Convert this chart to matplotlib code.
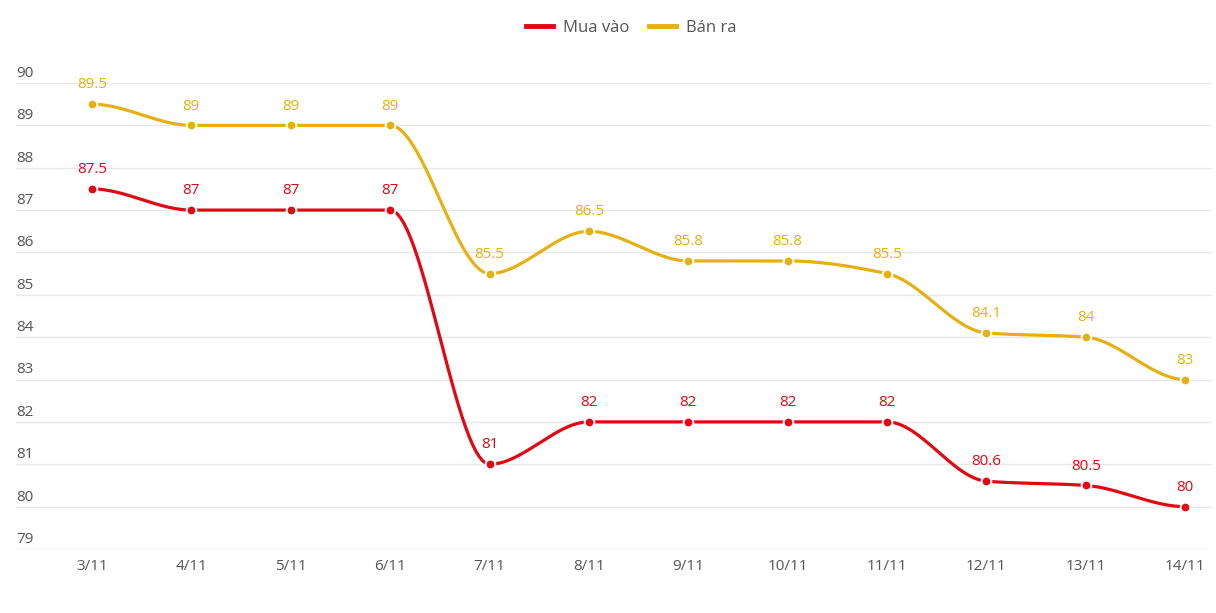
"""
Giá mua vào / bán ra, 3/11 -> 14/11 (đường làm mượt kiểu monotone).
"""
import numpy as np
import matplotlib
matplotlib.use("Agg")
import matplotlib.pyplot as plt
from matplotlib.lines import Line2D
import matplotlib.transforms as mtransforms

days = ["3/11", "4/11", "5/11", "6/11", "7/11", "8/11",
        "9/11", "10/11", "11/11", "12/11", "13/11", "14/11"]
mua_vao = [87.5, 87, 87, 87, 81, 82, 82, 82, 82, 80.6, 80.5, 80]
ban_ra = [89.5, 89, 89, 89, 85.5, 86.5, 85.8, 85.8, 85.5, 84.1, 84, 83]
y_ticks = [79, 80, 81, 82, 83, 84, 85, 86, 87, 88, 89, 90]

RED = "#e30613"
GOLD = "#e6b012"
GREY = "#555555"

plt.rcParams["font.family"] = ["Open Sans", "DejaVu Sans"]


def pchip(x, y, n=30):
    # cubic hermite monotone (Fritsch-Carlson), pas de scipy
    x = np.asarray(x, float)
    y = np.asarray(y, float)
    h = np.diff(x)
    d = np.diff(y) / h
    m = np.zeros_like(y)
    for i in range(1, len(y) - 1):
        if d[i - 1] * d[i] > 0:
            w1 = 2 * h[i] + h[i - 1]
            w2 = h[i] + 2 * h[i - 1]
            m[i] = (w1 + w2) / (w1 / d[i - 1] + w2 / d[i])
    xs, ys = [], []
    for i in range(len(h)):
        t = np.linspace(0, 1, n)
        h00 = 2 * t**3 - 3 * t**2 + 1
        h10 = t**3 - 2 * t**2 + t
        h01 = -2 * t**3 + 3 * t**2
        h11 = t**3 - t**2
        xs.append(x[i] + t * h[i])
        ys.append(h00 * y[i] + h10 * h[i] * m[i] + h01 * y[i + 1] + h11 * h[i] * m[i + 1])
    return np.concatenate(xs), np.concatenate(ys)


fig = plt.figure(figsize=(12.16, 6.13), dpi=100)
ax = fig.add_axes([16 / 1216, 1 - 549 / 613, 1196 / 1216, 466 / 613])

x = np.arange(len(days))
for vals, color in [(ban_ra, GOLD), (mua_vao, RED)]:
    sx, sy = pchip(x, vals)
    ax.plot(sx, sy, color=color, linewidth=2.3, solid_capstyle="round", zorder=3)
    ax.plot(x, vals, "o", color=color, markersize=7, markeredgecolor="white",
            markeredgewidth=1.4, zorder=4)
    for xi, v in zip(x, vals):
        ax.annotate(f"{v:g}", (xi, v), xytext=(0, 8.5), textcoords="offset points",
                    ha="center", va="bottom", color=color, fontsize=11, zorder=5)

ax.set_xlim(-0.765, 11.27)
ax.set_ylim(79, 90)
ax.set_yticks(y_ticks)
ax.set_yticklabels([])
ax.tick_params(axis="y", length=0)
ax.grid(axis="y", color="#e8e8e8", linewidth=1)
ax.set_xticks(x)
ax.set_xticklabels(days, color=GREY, fontsize=11)
ax.tick_params(axis="x", length=0, pad=7)
for s in ax.spines.values():
    s.set_visible(False)

# étiquettes y au-dessus des lignes, alignées à gauche
trans = mtransforms.blended_transform_factory(ax.transAxes, ax.transData)
for t in y_ticks:
    ax.annotate(str(t), (0, t), xycoords=trans, xytext=(0, 1.5), textcoords="offset points",
                ha="left", va="bottom", color=GREY, fontsize=11)

handles = [Line2D([], [], color=RED, linewidth=3.5),
           Line2D([], [], color=GOLD, linewidth=3.5)]
fig.legend(handles, ["Mua vào", "Bán ra"], loc="center", bbox_to_anchor=(631 / 1216, 1 - 28 / 613),
           ncol=2, frameon=False, fontsize=12, labelcolor=GREY, handlelength=1.6,
           handletextpad=0.6, columnspacing=1.2)

fig.savefig("out.png", dpi=100)
